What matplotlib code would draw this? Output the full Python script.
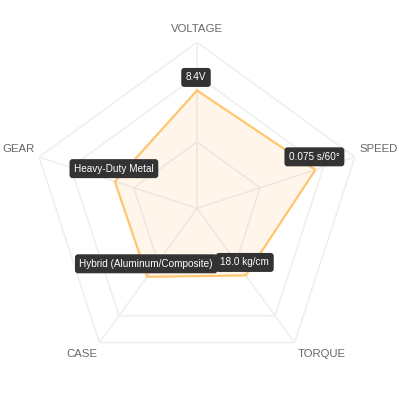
import numpy as np
import matplotlib
matplotlib.use('Agg')
import matplotlib.pyplot as plt

# axes, scores (0-100 scale) and the value labels shown on each point
categories = ['VOLTAGE', 'SPEED', 'TORQUE', 'CASE', 'GEAR']
scores = [71, 75, 50, 51, 52]
value_labels = ['8.4V', '0.075 s/60°', '18.0 kg/cm', 'Hybrid (Aluminum/Composite)', 'Heavy-Duty Metal']
grid_levels = [40, 80, 100]

plt.rcParams['font.family'] = ['Liberation Sans', 'DejaVu Sans']

n = len(categories)
angles = np.linspace(0, 2*np.pi, n, endpoint=False)
closed_angles = np.append(angles, angles[0])

fig = plt.figure(figsize=(4.01, 4.01), dpi=100)
ax = fig.add_axes([31/401, 26.7/401, 332/401, 332/401], projection='polar')
ax.set_theta_offset(np.pi/2)
ax.set_theta_direction(-1)
ax.set_ylim(0, 100)
ax.grid(False)
ax.spines['polar'].set_visible(False)
ax.set_xticks([])
ax.set_yticks([])
ax.patch.set_alpha(0)

# pentagon grid and spokes
for lvl in grid_levels:
    ax.plot(closed_angles, [lvl]*(n+1), color='#eeeeee', lw=1.1, zorder=1)
for a in angles:
    ax.plot([a, a], [0, 100], color='#eeeeee', lw=1.1, zorder=1)

# data polygon
vals = scores + scores[:1]
ax.fill(closed_angles, vals, color=(255/255, 159/255, 64/255), alpha=0.1, zorder=2, lw=0)
ax.plot(closed_angles, vals, color='#fdc76e', lw=1.6, zorder=3)

# axis labels
label_pos = [((0, 13), 'center'), ((5, 8), 'left'), ((3, -11), 'left'), ((-2, -11), 'right'), ((-4, 8), 'right')]
for a, name, (off, ha) in zip(angles, categories, label_pos):
    ax.annotate(name, xy=(a, 100), xytext=off, textcoords='offset pixels',
                ha=ha, va='center', fontsize=8.2, color='#666666', annotation_clip=False)

# value boxes above each point
for a, v, txt in zip(angles, scores, value_labels):
    ax.annotate(txt, xy=(a, v), xytext=(-1, 13), textcoords='offset pixels',
                ha='center', va='center', fontsize=7.2, color='white', zorder=5,
                bbox=dict(boxstyle='round,pad=0.45,rounding_size=0.3', fc='#333333', ec='none'),
                annotation_clip=False)

fig.savefig('out.png', dpi=100)
